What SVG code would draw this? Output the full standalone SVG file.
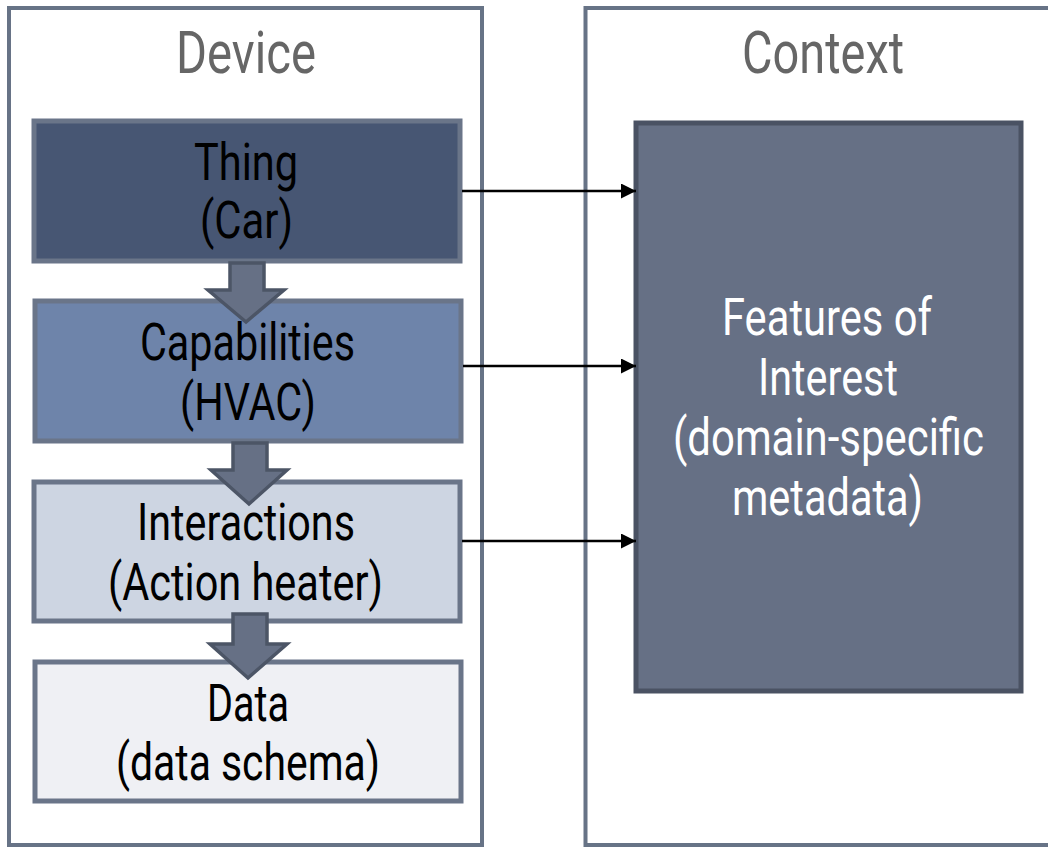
<svg xmlns="http://www.w3.org/2000/svg" width="1048" height="847" viewBox="0 0 1048 847">
<style>
.cont{fill:#ffffff;stroke:#677386;stroke-width:4}
.title{font-family:Roboto,"Liberation Sans",sans-serif;font-size:59px;fill:#666666;text-anchor:middle}
.lbl{font-family:Roboto,"Liberation Sans",sans-serif;font-size:52px;fill:#000000;text-anchor:middle}
.wl{fill:#ffffff}
.box{stroke:#6a7589;stroke-width:5}
.blk{fill:#667085;stroke:#4c5566;stroke-width:3.5;stroke-linejoin:miter}
.conn{stroke:#000000;stroke-width:2.5;fill:none}
</style>
<defs>
<marker id="ah" markerWidth="15" markerHeight="15" refX="15" refY="7.5" orient="auto" markerUnits="userSpaceOnUse">
<path d="M0,0 L15,7.5 L0,15 Z" fill="#000000"/>
</marker>
</defs>
<g id="device">
<rect class="cont" x="9" y="8" width="473" height="837"/>
<text class="title" x="246" y="73" textLength="140" lengthAdjust="spacingAndGlyphs">Device</text>
</g>
<g id="context">
<rect class="cont" x="585.5" y="8" width="480" height="837"/>
<text class="title" x="823" y="73" textLength="162" lengthAdjust="spacingAndGlyphs">Context</text>
</g>
<g id="thing">
<rect class="box" x="34" y="121" width="426" height="140" fill="#475673"/>
<text class="lbl" x="246" y="180" textLength="104" lengthAdjust="spacingAndGlyphs">Thing</text>
<text class="lbl" x="246.5" y="238" textLength="93" lengthAdjust="spacingAndGlyphs">(Car)</text>
</g>
<g id="capabilities">
<rect class="box" x="35" y="301" width="426" height="140" fill="#6e84aa"/>
<text class="lbl" x="247.5" y="360" textLength="215" lengthAdjust="spacingAndGlyphs">Capabilities</text>
<text class="lbl" x="248" y="420" textLength="136" lengthAdjust="spacingAndGlyphs">(HVAC)</text>
</g>
<g id="interactions">
<rect class="box" x="34" y="482" width="426" height="139" fill="#cdd5e2"/>
<text class="lbl" x="246" y="540" textLength="218" lengthAdjust="spacingAndGlyphs">Interactions</text>
<text class="lbl" x="245.5" y="600" textLength="275" lengthAdjust="spacingAndGlyphs">(Action heater)</text>
</g>
<g id="data">
<rect class="box" x="35" y="662" width="426" height="139" fill="#eff0f4"/>
<text class="lbl" x="248" y="721" textLength="82" lengthAdjust="spacingAndGlyphs">Data</text>
<text class="lbl" x="248" y="780" textLength="264" lengthAdjust="spacingAndGlyphs">(data schema)</text>
</g>
<g id="features">
<rect x="636" y="123" width="385" height="568" fill="#667085" stroke="#4a5263" stroke-width="5"/>
<text class="lbl wl" x="827" y="335" textLength="210" lengthAdjust="spacingAndGlyphs">Features of</text>
<text class="lbl wl" x="828" y="395" textLength="140" lengthAdjust="spacingAndGlyphs">Interest</text>
<text class="lbl wl" x="828.5" y="455" textLength="311" lengthAdjust="spacingAndGlyphs">(domain-specific</text>
<text class="lbl wl" x="827.5" y="515" textLength="191" lengthAdjust="spacingAndGlyphs">metadata)</text>
</g>
<g id="connectors">
<path class="blk" d="M230,263 L264,263 L264,290 L284,290 L246,322 L208,290 L230,290 Z"/>
<path class="blk" d="M233,443 L267,443 L267,470 L287,470 L249,504 L211,470 L233,470 Z"/>
<path class="blk" d="M233,614 L267,614 L267,644 L287,644 L248,678 L210,644 L233,644 Z"/>
<line class="conn" x1="462" y1="191" x2="636" y2="191" marker-end="url(#ah)"/>
<line class="conn" x1="463" y1="366" x2="636" y2="366" marker-end="url(#ah)"/>
<line class="conn" x1="462" y1="541" x2="636" y2="541" marker-end="url(#ah)"/>
</g>
</svg>
